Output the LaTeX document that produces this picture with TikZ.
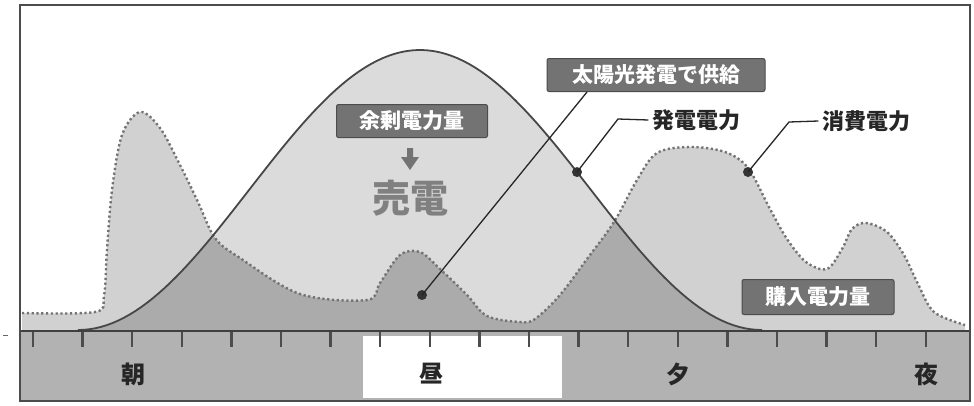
\documentclass[tikz,border=0pt]{standalone}
\usepackage{fontspec}
\newfontfamily\jp{Noto Sans CJK JP}
\begin{document}
\begin{tikzpicture}[x=1pt,y=-1pt,
  declare function={belly(\t)=330-140*(1+cos((\t-420)*0.526316));},
  consonly/.style={fill=black!18},
  surplus/.style={fill=black!14},
  overlapfill/.style={fill=black!33},
  bandfill/.style={fill=black!30},
  bellline/.style={draw=black!72,line width=1.8pt},
  consline/.style={draw=black!55,line width=2.4pt,dash pattern=on 2.2pt off 2.6pt},
  darkbox/.style={fill=black!55,draw=black!70,line width=1pt,rounded corners=2pt,text=white,font=\jp\bfseries\fontsize{21}{21}\selectfont,inner xsep=6pt,inner ysep=4pt},
  plainlabel/.style={font=\jp\bfseries\fontsize{22}{22}\selectfont,text=black!85},
  axislabel/.style={font=\jp\bfseries\fontsize{24}{24}\selectfont,text=black!85},
  leader/.style={draw=black!85,line width=1.3pt},
  tickmark/.style={draw=black!70,line width=2.4pt},
  dotmark/.style={circle,fill=black!80,inner sep=0pt,minimum size=10pt}
]
\useasboundingbox (0,0) rectangle (974,405);
\fill[white] (0,0) rectangle (974,405);

\def\consum{(22,313) (95,312) (104,296) (107,250) (112,190) (122,135) (140,112) (160,128) (180,165) (198,202) (215,238) (240,258) (300,294) (367,300) (380,283) (400,255) (420,252) (440,269) (467,295) (487,316) (520,322) (535,319) (560,295) (587,259) (614,222) (637,180) (657,153) (690,147) (725,152) (748,168) (770,209) (787,239) (806,262) (827,269) (842,249) (852,229) (866,223) (887,232) (904,255) (918,284) (934,312) (965,325)}

% fills
\fill[consonly] (22,331) -- plot[smooth,tension=0.55] coordinates {\consum} -- (965,331) -- cycle;
\fill[surplus] (78,331) -- plot[domain=78:762,samples=120] (\x,{belly(\x)}) -- (762,331) -- cycle;
\begin{scope}
  \clip (78,331) -- plot[domain=78:762,samples=120] (\x,{belly(\x)}) -- (762,331) -- cycle;
  \fill[overlapfill] (22,331) -- plot[smooth,tension=0.55] coordinates {\consum} -- (965,331) -- cycle;
\end{scope}

% curves
\draw[consline] plot[smooth,tension=0.55] coordinates {\consum};
\draw[bellline] plot[domain=78:762,samples=120] (\x,{belly(\x)});

% axis band
\fill[bandfill] (20,331) rectangle (970,401);
\fill[white] (363,336) rectangle (562,398);
\draw[black!75,line width=1.5pt] (20,331) -- (970,331);
\foreach \i in {0,...,18} {
  \draw[tickmark] ({33+49.6*\i},332) -- ({33+49.6*\i},347);
}
\node[axislabel] (asa) at (133,374) {朝};
\node[axislabel] (hiru) at (431,374) {昼};
\node[axislabel] (yu) at (678,374) {夕};
\node[axislabel] (yoru) at (926,374) {夜};

% frame
\draw[black!70,line width=2.2pt] (20,5) rectangle (970,401);
\draw[black!60,line width=1pt] (3,335) -- (8,335);

% surplus annotation
\node[darkbox,minimum width=151pt,minimum height=33pt] (yojo) at (412,121) {余剰電力量};
\fill[black!55] (407,148) -- (413,148) -- (413,157) -- (419,157) -- (410,170) -- (401,157) -- (407,157) -- cycle;
\node[font=\jp\bfseries\fontsize{38}{38}\selectfont,text=black!50] (baiden) at (410,198) {売電};

% solar supply
\node[darkbox,minimum width=218pt,minimum height=33pt] (solar) at (656,75) {太陽光発電で供給};
\node[dotmark] (d1) at (422,295) {};
\draw[leader] (d1.center) -- (587,92);

% generation label
\node[dotmark] (d2) at (577,{belly(577)}) {};
\node[plainlabel] (gen) at (696,120) {発電電力};
\coordinate (g1) at (618,119);
\draw[leader] (d2.center) -- (g1) -- (gen.west);

% consumption label
\node[dotmark] (d3) at (748,172) {};
\node[plainlabel] (cons) at (866,121) {消費電力};
\coordinate (c1) at (789,122);
\draw[leader] (d3.center) -- (c1) -- (cons.west);

% purchase label
\node[darkbox,minimum width=152pt,minimum height=35pt] (buy) at (818,297) {購入電力量};
\end{tikzpicture}
\end{document}
